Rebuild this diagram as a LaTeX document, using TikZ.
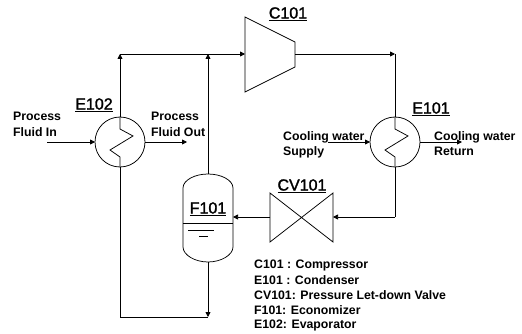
\documentclass[tikz,border=0pt]{standalone}
\usepackage{fontspec}
\setmainfont{Liberation Sans}
\newfontfamily\tagfont[FakeBold=1.6]{Liberation Sans}
\usetikzlibrary{arrows.meta,calc}
\tikzset{
  pipe/.style={draw=black,line width=0.75pt},
  flow/.style={pipe,-{Triangle[length=5pt,width=5pt]}},
  hx/.style={circle,draw=black,line width=0.75pt,minimum size=50pt,inner sep=0pt,outer sep=0pt},
  tag/.style={font=\fontsize{16}{18}\selectfont\tagfont,inner sep=0pt},
  note/.style={font=\fontsize{12.3}{15.5}\selectfont\bfseries,align=left,anchor=north west,inner sep=0pt},
  legend/.style={font=\fontsize{12.3}{15}\selectfont\bfseries,anchor=west,inner sep=0pt}
}
\begin{document}
\begin{tikzpicture}[x=1pt,y=-1pt]
\useasboundingbox (0,0) rectangle (522,334);
% exchangers
\node[hx] (E102) at (120,142) {};
\node[hx] (E101) at (395,142) {};
\draw[pipe] (E102.north) -- (120,129) -- (133,136) -- (110,150) -- (120,157) -- (E102.south);
\draw[pipe] (E101.north) -- (395,129) -- (408,136) -- (385,150) -- (395,157) -- (E101.south);
% compressor
\coordinate (Cin) at (245,54);
\coordinate (Cout) at (295,54);
\draw[pipe,line join=miter] (245,17) -- (295,42) -- (295,67) -- (245,92) -- cycle;
% valve
\coordinate (Vin) at (333,217);
\coordinate (Vout) at (270,217);
\draw[pipe] (270,193) -- (333,242) -- (333,193) -- (270,242) -- cycle;
% economizer
\node[minimum width=50pt,minimum height=88pt,inner sep=0pt,outer sep=0pt] (F101) at (208,218) {};
\draw[pipe] (183,188) .. controls (183,180) and (195,174) .. (208,174)
  .. controls (221,174) and (233,180) .. (233,188) -- (233,247)
  .. controls (233,255) and (221,262) .. (208,262)
  .. controls (195,262) and (183,255) .. (183,247) -- cycle;
\coordinate (Fl) at (183,223);
\coordinate (Fr) at (233,223);
\draw[pipe] (Fl) -- (Fr);
\draw[pipe] (188,230) -- (214,230);
\draw[pipe] (199,236) -- (208,236);
% junctions and free ends
\coordinate (J1) at (120,54);
\coordinate (J2) at (208,54);
\coordinate (J3) at (395,54);
\coordinate (J4) at (395,217);
\coordinate (J5) at (208,317);
\coordinate (J6) at (120,317);
\coordinate (PI) at (47,142);
\coordinate (PO) at (187,142);
\coordinate (CS) at (328,142);
\coordinate (CR) at (462,142);
\coordinate (Ftop) at (208,174);
\coordinate (Fbot) at (208,262);
\coordinate (Fin) at (233,217);
% connectors
\draw[flow] (E102.north) -- (J1);
\draw[flow] (J1) -- (Cin);
\draw[flow] (Ftop) -- (J2);
\draw[flow] (Cout) -- (J3);
\draw[pipe] (J3) -- (E101.north);
\draw[pipe] (E101.south) -- (J4);
\draw[flow] (J4) -- (Vin);
\draw[flow] (Vout) -- (Fin);
\draw[flow] (Fbot) -- (J5);
\draw[pipe] (J5) -- (J6) -- (E102.south);
\draw[flow] (PI) -- (E102.west);
\draw[flow] (E102.east) -- (PO);
\draw[flow] (CS) -- (E101.west);
\draw[flow] (E101.east) -- (CR);
% labels
\node[tag] (tE102) at (94,105) {\underline{E102}};
\node[tag] (tC101) at (288,14) {\underline{C101}};
\node[tag] (tE101) at (431,109) {\underline{E101}};
\node[tag] (tCV101) at (302,186) {\underline{CV101}};
\node[tag] (tF101) at (208,209) {\underline{F101}};
\node[note] (n1) at (13,112) {Process\\Fluid In};
\node[note] (n2) at (151,112) {Process\\Fluid Out};
\node[note] (n3) at (283,131) {Cooling water\\Supply};
\node[note] (n4) at (434,131) {Cooling water\\Return};
\node[legend] (l1) at (254,265) {C101 : Compressor};
\node[legend] (l2) at (254,280) {E101 : Condenser};
\node[legend] (l3) at (254,295) {CV101: Pressure Let-down Valve};
\node[legend] (l4) at (254,310) {F101: Economizer};
\node[legend] (l5) at (254,325) {E102: Evaporator};
\end{tikzpicture}
\end{document}
